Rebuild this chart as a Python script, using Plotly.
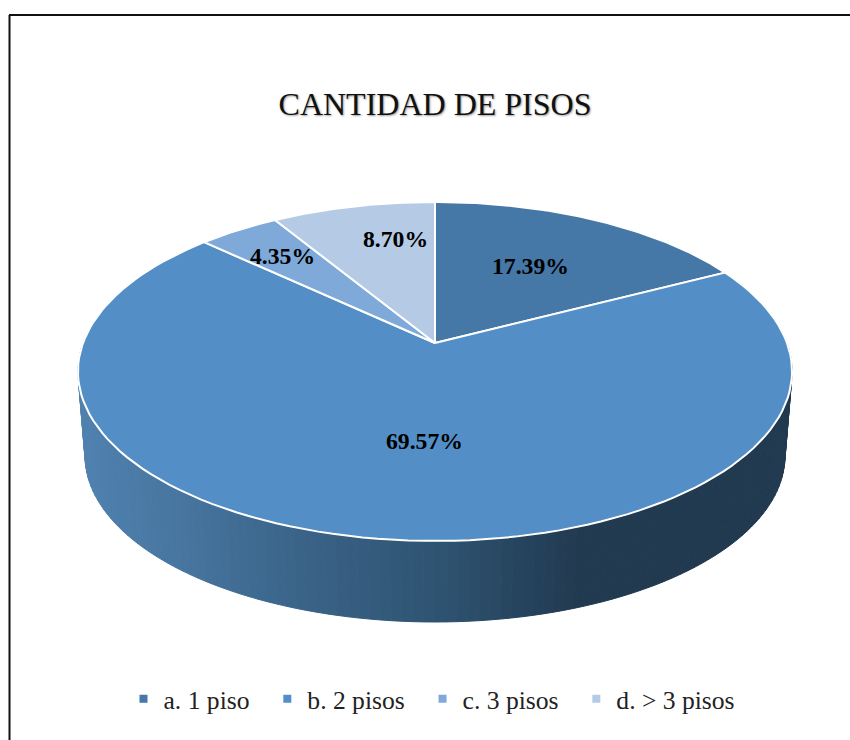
import numpy as np
import plotly.graph_objects as go

categories = ["a. 1 piso", "b. 2 pisos", "c. 3 pisos", "d. > 3 pisos"]
values = [17.39, 69.57, 4.35, 8.70]
colors = ["#4577A7", "#538FC6", "#7EA9D8", "#B4CAE5"]
label_xy = [(530, 266), (424, 441), (282, 256), (395, 239)]

W, H = 850, 740

SERIF = "Liberation Serif, Times New Roman, serif"
CX, AY = 435.0, 343.0      # projected pie centre
A, B, K = 352.0, 164.7, 0.168   # perspective of the disc
DEPTH_Y, DEPTH_S = 428.0, 0.98  # lower rim

side_stops = [(78, (80, 130, 176)), (190, (70, 116, 158)), (300, (58, 99, 136)),
              (435, (47, 84, 114)), (520, (38, 68, 94)), (580, (34, 58, 80)), (792, (34, 58, 80))]


def rim(theta, cy=AY, s=1.0):
    u, v = np.sin(theta), np.cos(theta)
    d = 1 + K * v
    return CX + s * A * u / d, cy - s * B * v / d


def side_color(x):
    xs = [p[0] for p in side_stops]
    rgb = [np.interp(x, xs, [p[1][i] for p in side_stops]) for i in range(3)]
    return "rgb(%d,%d,%d)" % tuple(round(c) for c in rgb)


fig = go.Figure()

# side wall as thin strips
edges = np.radians(np.linspace(66, 294, 151))
for t0, t1 in zip(edges[:-1], edges[1:]):
    tt = np.array([t0, t1])
    xt, yt = rim(tt)
    xb, yb = rim(tt, DEPTH_Y, DEPTH_S)
    col = side_color((xt.mean() + xb.mean()) / 2)
    fig.add_trace(go.Scatter(
        x=[xt[0], xt[1], xb[1], xb[0], xt[0]], y=[yt[0], yt[1], yb[1], yb[0], yt[0]],
        mode="lines", fill="toself", fillcolor=col, line=dict(color=col, width=1),
        showlegend=False, hoverinfo="skip"))

# top-face slices
total = sum(values)
start = 0.0
for val, col, name in zip(values, colors, categories):
    end = start + val
    th = np.radians(np.linspace(start, end, 120 + 1) / total * 360)
    rx, ry = rim(th)
    fig.add_trace(go.Scatter(
        x=np.r_[CX, rx, CX], y=np.r_[AY, ry, AY], mode="lines", fill="toself",
        fillcolor=col, line=dict(color="white", width=2), showlegend=False,
        name=name, hoverinfo="name"))
    start = end

# legend keys
for name, col in zip(categories, colors):
    fig.add_trace(go.Scatter(x=[None], y=[None], mode="markers", name=name + "\u00a0\u00a0",
                             marker=dict(symbol="square", size=8, color=col)))

for val, (lx, ly) in zip(values, label_xy):
    fig.add_annotation(x=lx, y=ly, text=f"<b>{val:.2f}%</b>", showarrow=False, xref="x", yref="y",
                       font=dict(family=SERIF, size=23.7, color="black"))

fig.add_shape(type="line", x0=9.5, x1=9.5, y0=15, y1=740, xref="x", yref="y", line=dict(color="#111", width=2))
fig.add_shape(type="line", x0=9, x1=850, y0=15, y1=15, xref="x", yref="y", line=dict(color="#111", width=2))

fig.update_layout(
    width=W, height=H, margin=dict(l=0, r=0, t=0, b=0, autoexpand=False),
    paper_bgcolor="white", plot_bgcolor="white",
    title=dict(text="CANTIDAD DE PISOS", x=435 / W, xanchor="center",
               y=1 - 104 / H, yanchor="middle",
               font=dict(family=SERIF, size=32, color="#111", shadow="1px 1px 2px #999")),
    xaxis=dict(range=[0, W], visible=False, fixedrange=True),
    yaxis=dict(range=[H, 0], visible=False, fixedrange=True),
    legend=dict(orientation="h", x=438 / W, xanchor="center",
                y=1 - 699 / H, yanchor="middle",
                font=dict(family=SERIF, size=25.6, color="#222"), bgcolor="rgba(0,0,0,0)",
                itemclick=False, itemdoubleclick=False),
    showlegend=True,
)

fig.write_html("out.html", config=dict(displayModeBar=False),
               post_script="document.body.style.margin='0';document.documentElement.style.overflow='hidden';")
